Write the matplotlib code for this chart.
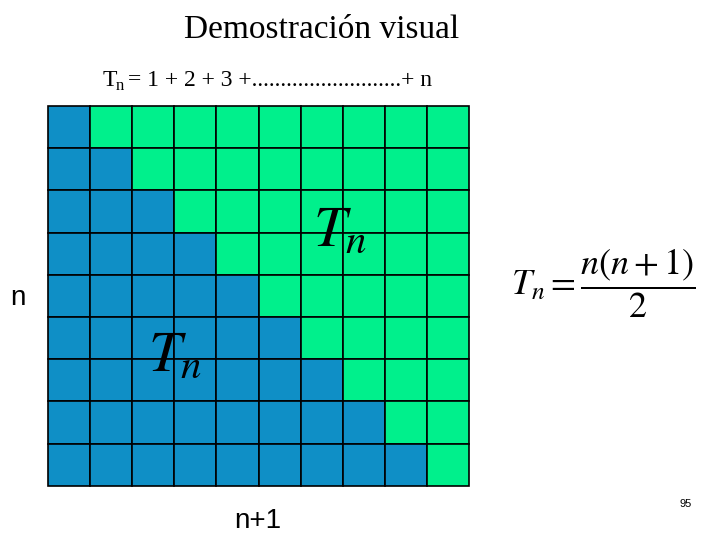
import matplotlib
matplotlib.use("Agg")
import matplotlib.pyplot as plt
from matplotlib.patches import Rectangle

plt.rcParams['mathtext.fontset'] = 'stix'

n_rows = 9
n_cols = 10
blue_counts = [1, 2, 3, 4, 5, 6, 7, 8, 9]  # blue cells per row, top to bottom
blue = '#0F8FC6'
green = '#00F08C'

fig = plt.figure(figsize=(7.2, 5.4), dpi=100)
ax = fig.add_axes([0, 0, 1, 1])
ax.set_xlim(0, 720)
ax.set_ylim(540, 0)
ax.axis('off')

x0, y0, cw, ch = 48, 106, 42.1, 42.2
for r in range(n_rows):
    for c in range(n_cols):
        col = blue if c < blue_counts[r] else green
        ax.add_patch(Rectangle((x0 + c * cw, y0 + r * ch), cw, ch,
                               facecolor=col, edgecolor='black', lw=1.2))

serif = 'Liberation Serif'
ax.text(322, 30, "Demostración visual", ha='center', va='center',
        fontsize=24, family=serif)
ax.text(103, 80, "T", ha='left', va='center', fontsize=17, family=serif)
ax.text(116, 86, "n", ha='left', va='center', fontsize=12, family=serif)
ax.text(128, 80, "= 1 + 2 + 3 +..........................+ n", ha='left', va='center',
        fontsize=17, family=serif)
ax.text(340, 230, r"$T_n$", ha='center', va='center', fontsize=42)
ax.text(175, 355, r"$T_n$", ha='center', va='center', fontsize=42)
ax.text(603, 283, r"$T_n = \dfrac{n(n+1)}{2}$", ha='center', va='center', fontsize=26)
ax.text(18, 298, "n", ha='center', va='center', fontsize=20, family='Liberation Sans')
ax.text(258, 521, "n+1", ha='center', va='center', fontsize=20, family='Liberation Sans')
ax.text(686, 504, "95", ha='center', va='center', fontsize=8, family='Liberation Sans')

fig.savefig("out.png", dpi=100)
